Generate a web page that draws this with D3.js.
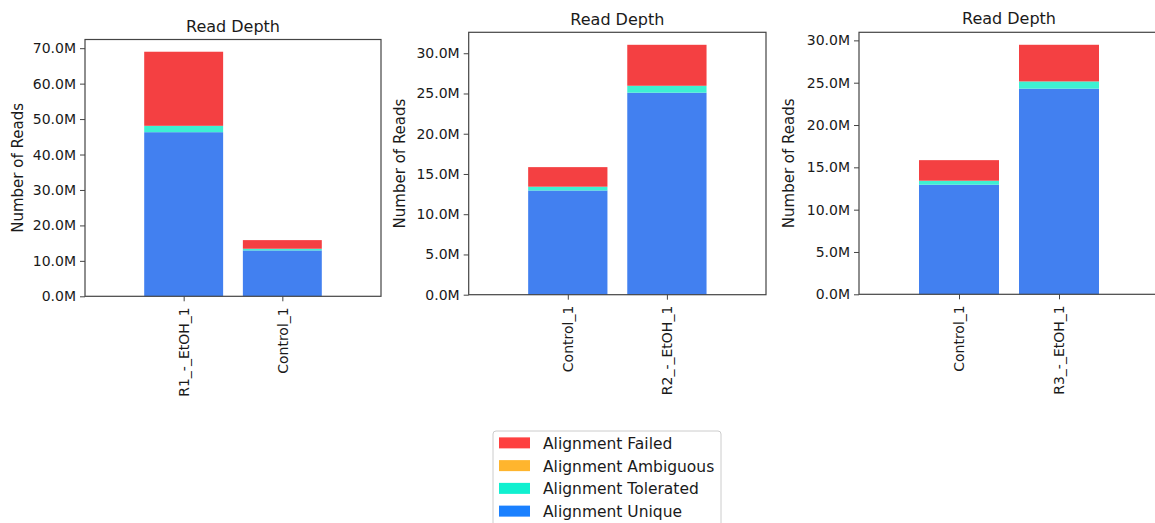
<!DOCTYPE html>
<html>
<head>
<meta charset="utf-8">
<script src="https://cdn.jsdelivr.net/npm/d3@7"></script>
<style>
  body { margin: 0; background: #fff; }
  svg { display: block; font-family: "DejaVu Sans", sans-serif; }
</style>
</head>
<body>
<svg id="chart" width="1155" height="523"></svg>
<script>
// Data (millions of reads), one set per panel
const series = ['Alignment Unique', 'Alignment Tolerated', 'Alignment Ambiguous', 'Alignment Failed'];

const samples1 = ['R1_-_EtOH_1', 'Control_1'];
const unique1 = [46.3, 12.95];
const tolerated1 = [1.8, 0.47];
const ambiguous1 = [0, 0];
const failed1 = [20.9, 2.43];

const samples2 = ['Control_1', 'R2_-_EtOH_1'];
const unique2 = [12.95, 25.1];
const tolerated2 = [0.47, 0.86];
const ambiguous2 = [0, 0];
const failed2 = [2.43, 5.09];

const samples3 = ['Control_1', 'R3_-_EtOH_1'];
const unique3 = [12.95, 24.3];
const tolerated3 = [0.47, 0.85];
const ambiguous3 = [0, 0];
const failed3 = [2.43, 4.33];

const tickStep = [10, 5, 5];

// bar colours and legend swatch colours
const barColor = {
  'Alignment Unique': '#4280f0',
  'Alignment Tolerated': '#3ef0d2',
  'Alignment Ambiguous': '#fdb42e',
  'Alignment Failed': '#f44042'
};
const legendColor = {
  'Alignment Failed': '#fe4040',
  'Alignment Ambiguous': '#ffb52e',
  'Alignment Tolerated': '#10f0d0',
  'Alignment Unique': '#1a80ff'
};

const panels = [
  { samples: samples1, vals: [unique1, tolerated1, ambiguous1, failed1], step: tickStep[0],
    box: { left: 85, right: 381, top: 39.5, bottom: 296.3 }, titleY: 32, labelX: 18 },
  { samples: samples2, vals: [unique2, tolerated2, ambiguous2, failed2], step: tickStep[1],
    box: { left: 468.7, right: 766, top: 32.3, bottom: 294.7 }, titleY: 25, labelX: 400 },
  { samples: samples3, vals: [unique3, tolerated3, ambiguous3, failed3], step: tickStep[2],
    box: { left: 859, right: 1159, top: 32.3, bottom: 294.3 }, titleY: 24, labelX: 789 }
];

const svg = d3.select('#chart');
const axisColor = '#444';
const textColor = '#1a1a1a';

panels.forEach(p => {
  const b = p.box;
  const rows = p.samples.map((s, i) => {
    const r = { sample: s };
    series.forEach((k, j) => { r[k] = p.vals[j][i]; });
    return r;
  });
  const stacked = d3.stack().keys(series)(rows);
  const maxTotal = d3.max(rows, r => d3.sum(series, k => r[k]));

  // matplotlib-like xlim [-1, n] with bar width 0.8
  const x = d3.scaleLinear().domain([-1, p.samples.length]).range([b.left, b.right]);
  const y = d3.scaleLinear().domain([0, maxTotal * 1.05]).range([b.bottom, b.top]);

  const g = svg.append('g');

  // bars
  stacked.forEach(layer => {
    g.selectAll(null)
      .data(layer)
      .enter()
      .append('rect')
      .attr('x', (d, i) => x(i - 0.4))
      .attr('width', x(0.8) - x(0))
      .attr('y', d => y(d[1]))
      .attr('height', d => Math.max(0, y(d[0]) - y(d[1])))
      .attr('fill', barColor[layer.key]);
  });

  // frame
  g.append('rect')
    .attr('x', b.left).attr('y', b.top)
    .attr('width', b.right - b.left).attr('height', b.bottom - b.top)
    .attr('fill', 'none').attr('stroke', axisColor).attr('stroke-width', 1.2);

  // y axis
  const yTicks = d3.range(0, maxTotal * 1.05 + 1e-9, p.step);
  const ya = g.append('g')
    .attr('transform', `translate(${b.left},0)`)
    .call(d3.axisLeft(y).tickValues(yTicks).tickSize(5).tickPadding(4)
      .tickFormat(d => d.toFixed(1) + 'M'));
  ya.select('.domain').remove();
  ya.selectAll('line').attr('stroke', axisColor).attr('stroke-width', 1);
  ya.selectAll('text').attr('fill', textColor).style('font-size', '14px')
    .style('font-family', '"DejaVu Sans", sans-serif');

  // x axis
  const xa = g.append('g')
    .attr('transform', `translate(0,${b.bottom})`)
    .call(d3.axisBottom(x).tickValues(d3.range(p.samples.length)).tickSize(5)
      .tickFormat(i => p.samples[i]));
  xa.select('.domain').remove();
  xa.selectAll('line').attr('stroke', axisColor).attr('stroke-width', 1);
  xa.selectAll('text')
    .attr('fill', textColor)
    .style('font-size', '14px')
    .style('font-family', '"DejaVu Sans", sans-serif')
    .attr('text-anchor', 'end')
    .attr('dy', '0.35em')
    .attr('transform', 'translate(0,11) rotate(-90)')
    .attr('x', 0).attr('y', 0);

  // title
  g.append('text')
    .attr('x', (b.left + b.right) / 2)
    .attr('y', p.titleY)
    .attr('text-anchor', 'middle')
    .attr('fill', textColor)
    .style('font-size', '16px')
    .text('Read Depth');

  // y label
  g.append('text')
    .attr('transform', `translate(${p.labelX},${(b.top + b.bottom) / 2}) rotate(-90)`)
    .attr('text-anchor', 'middle')
    .attr('dy', '0.35em')
    .attr('fill', textColor)
    .style('font-size', '15px')
    .text('Number of Reads');
});

// legend
const legendKeys = ['Alignment Failed', 'Alignment Ambiguous', 'Alignment Tolerated', 'Alignment Unique'];
const lg = svg.append('g').attr('transform', 'translate(493,431)');
lg.append('rect')
  .attr('x', 0).attr('y', 0).attr('width', 228).attr('height', 100)
  .attr('rx', 3)
  .attr('fill', '#fff').attr('stroke', '#ccc').attr('stroke-width', 1);
const ly = d3.scaleBand().domain(legendKeys).range([1, 92]);
legendKeys.forEach(k => {
  const cy = ly(k) + ly.bandwidth() / 2;
  lg.append('rect')
    .attr('x', 6).attr('y', cy - 6).attr('width', 31).attr('height', 11)
    .attr('fill', legendColor[k]);
  lg.append('text')
    .attr('x', 50).attr('y', cy)
    .attr('dy', '0.35em')
    .attr('fill', textColor)
    .style('font-size', '15.5px')
    .text(k);
});
</script>
</body>
</html>
